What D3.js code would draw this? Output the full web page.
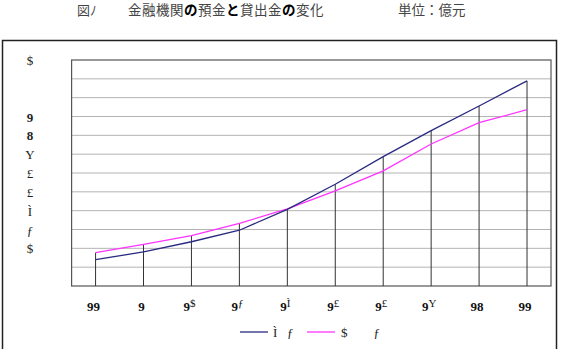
<!DOCTYPE html>
<html>
<head>
<meta charset="utf-8">
<script src="https://cdn.jsdelivr.net/npm/d3@7"></script>
<style>
  body { margin: 0; background: #fff; }
  svg text { font-family: "Liberation Serif", "DejaVu Serif", serif; }
</style>
</head>
<body>
<div id="visualization"></div>
<script>
// categories (garbled year labels, kept as in the picture)
const categories = ['99', '9', '9$', '9ƒ', '9Ì', '9£', '9£', '9Y', '98', '99'];
// series values (12 grid steps)
const depositValues = [1.40, 1.81, 2.35, 2.96, 4.07, 5.40, 6.87, 8.25, 9.56, 10.89];
const loanValues = [1.77, 2.21, 2.67, 3.33, 4.09, 5.05, 6.11, 7.54, 8.67, 9.36];
const seriesNames = ['Ì ƒ', '$ ƒ'];
// y tick labels by grid step
const yTickSteps = [12, 9, 8, 7, 6, 5, 4, 3, 2];
const yTickLabels = ['$', '9', '8', 'Y', '£', '£', 'Ì', 'ƒ', '$'];

document.addEventListener('DOMContentLoaded', () => {
    const width = 561;
    const height = 349;
    const margin = { top: 60, right: 10, bottom: 63, left: 71.6 };

    const svg = d3.select('#visualization')
        .append('svg')
        .attr('width', width)
        .attr('height', height);

    // Title
    const cjk = '"Noto Sans CJK JP", sans-serif';
    svg.append('text')
        .attr('x', 77).attr('y', 15)
        .attr('font-size', 13)
        .style('font-family', cjk)
        .attr('fill', '#444')
        .text('図ﾉ');
    const parts = [['金融機関', false], ['の', true], ['預金', false], ['と', true], ['貸出金', false], ['の', true], ['変化', false]];
    const t2 = svg.append('text')
        .attr('x', 128).attr('y', 15)
        .attr('font-size', 13.5)
        .style('font-family', cjk)
        .style('letter-spacing', '0.5px')
        .attr('fill', '#444');
    parts.forEach(p => {
        t2.append('tspan')
            .attr('font-weight', p[1] ? 'bold' : 'normal')
            .attr('fill', p[1] ? '#000' : '#444')
            .text(p[0]);
    });
    svg.append('text')
        .attr('x', 398).attr('y', 15)
        .attr('font-size', 13.5)
        .style('font-family', cjk)
        .attr('fill', '#444')
        .text('単位：億元');

    // Outer frame
    svg.append('rect')
        .attr('x', 2.5).attr('y', 40.5)
        .attr('width', 554).attr('height', 320)
        .attr('fill', 'none')
        .attr('stroke', '#222')
        .attr('stroke-width', 1.5);

    const xScale = d3.scalePoint()
        .domain(d3.range(categories.length))
        .range([margin.left, width - margin.right])
        .padding(0.5);

    const yScale = d3.scaleLinear()
        .domain([0, 12])
        .range([height - margin.bottom, margin.top]);

    // Gridlines
    svg.append('g')
        .selectAll('line')
        .data(d3.range(1, 12))
        .enter()
        .append('line')
        .attr('x1', margin.left)
        .attr('x2', width - margin.right)
        .attr('y1', d => yScale(d))
        .attr('y2', d => yScale(d))
        .attr('stroke', '#b4b4b4')
        .attr('stroke-width', 1);

    // Plot frame
    svg.append('rect')
        .attr('x', margin.left).attr('y', margin.top)
        .attr('width', width - margin.right - margin.left)
        .attr('height', height - margin.bottom - margin.top)
        .attr('fill', 'none')
        .attr('stroke', '#555')
        .attr('stroke-width', 1.2);

    // Drop lines
    svg.append('g')
        .selectAll('line')
        .data(categories)
        .enter()
        .append('line')
        .attr('x1', (d, i) => xScale(i))
        .attr('x2', (d, i) => xScale(i))
        .attr('y1', (d, i) => yScale(Math.max(depositValues[i], loanValues[i])))
        .attr('y2', height - margin.bottom)
        .attr('stroke', '#333')
        .attr('stroke-width', 1);

    const line = d3.line()
        .x((d, i) => xScale(i))
        .y(d => yScale(d));

    svg.append('path')
        .datum(loanValues)
        .attr('d', line)
        .attr('fill', 'none')
        .attr('stroke', '#ff33ff')
        .attr('stroke-width', 1.3);

    svg.append('path')
        .datum(depositValues)
        .attr('d', line)
        .attr('fill', 'none')
        .attr('stroke', '#2a2a80')
        .attr('stroke-width', 1.3);

    // Y labels
    svg.append('g')
        .selectAll('text')
        .data(yTickSteps)
        .enter()
        .append('text')
        .attr('x', 30)
        .attr('y', d => yScale(d) + 5)
        .attr('text-anchor', 'middle')
        .attr('font-size', 13)
        .attr('font-weight', (d, i) => /[0-9]/.test(yTickLabels[i]) ? 'bold' : 'normal')
        .attr('fill', '#222')
        .text((d, i) => yTickLabels[i]);

    // X labels
    const xl = svg.append('g')
        .selectAll('text')
        .data(categories)
        .enter()
        .append('text')
        .attr('x', (d, i) => xScale(i) - 2)
        .attr('y', 311)
        .attr('text-anchor', 'middle')
        .attr('font-size', 13)
        .attr('fill', '#111');
    xl.each(function(d) {
        const el = d3.select(this);
        if (/^[0-9]+$/.test(d)) {
            el.append('tspan').attr('font-weight', 'bold').text(d);
        } else {
            el.append('tspan').attr('font-weight', 'bold').text(d[0]);
            el.append('tspan').attr('font-size', 11).attr('dy', -4).text(d.slice(1));
        }
    });

    // Legend
    const legend = svg.append('g');
    legend.append('line')
        .attr('x1', 240).attr('x2', 268).attr('y1', 332).attr('y2', 332)
        .attr('stroke', '#2a2a80').attr('stroke-width', 1.3);
    legend.append('text')
        .attr('x', 273).attr('y', 337)
        .attr('font-size', 13).attr('fill', '#222')
        .attr('xml:space', 'preserve')
        .text(seriesNames[0].replace(' ', '   '));
    legend.append('line')
        .attr('x1', 307).attr('x2', 335).attr('y1', 332).attr('y2', 332)
        .attr('stroke', '#ff33ff').attr('stroke-width', 1.3);
    legend.append('text')
        .attr('x', 341).attr('y', 337)
        .attr('font-size', 13).attr('fill', '#222')
        .attr('xml:space', 'preserve')
        .text(seriesNames[1].replace(' ', '        '));
});
</script>
</body>
</html>
